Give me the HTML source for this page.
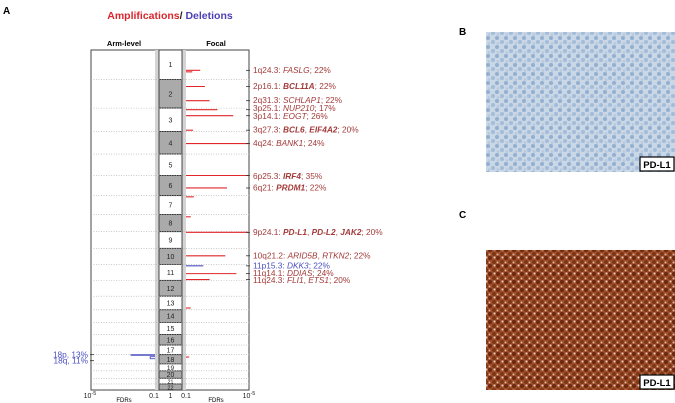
<!DOCTYPE html>
<html><head><meta charset="utf-8">
<style>
html,body{margin:0;padding:0;background:#fff;width:675px;height:403px;overflow:hidden;font-family:"Liberation Sans",Arial,sans-serif}
svg{position:absolute;left:0;top:0}
.lab{font-size:8.3px;fill:#a33a3a}
</style></head><body>
<svg width="675" height="403" viewBox="0 0 675 403">
<defs>
<pattern id="blueTex" width="9" height="9" patternUnits="userSpaceOnUse">
<rect width="9" height="9" fill="#c9d7e6"/>
<circle cx="2" cy="2" r="2" fill="#93b0d0"/><circle cx="7" cy="6" r="2" fill="#a3bcd8"/><circle cx="3" cy="7.5" r="1.3" fill="#b6c9df"/>
</pattern>
<pattern id="brownTex" width="8" height="8" patternUnits="userSpaceOnUse">
<rect width="8" height="8" fill="#a0502a"/>
<circle cx="2" cy="2" r="2.2" fill="#6e2a10"/><circle cx="6" cy="6" r="2" fill="#7d3615"/><circle cx="6.5" cy="1.5" r="1" fill="#e8d5d0"/><circle cx="1.5" cy="6.5" r="0.9" fill="#d9c2c0"/>
</pattern>
</defs>
<text x="3" y="14" font-size="10" font-weight="bold">A</text>
<text x="170" y="19" font-size="10.5" font-weight="bold" text-anchor="middle"><tspan fill="#d8262c">Amplifications</tspan><tspan fill="#222">/ </tspan><tspan fill="#4b3fb5">Deletions</tspan></text>
<text x="124" y="46" font-size="7.5" font-weight="bold" text-anchor="middle">Arm-level</text>
<text x="216" y="46" font-size="7.5" font-weight="bold" text-anchor="middle">Focal</text>
<g id="chart"></g>
<text x="459" y="35" font-size="10" font-weight="bold">B</text>
<rect x="486" y="32" width="189" height="140" fill="url(#blueTex)"/>
<rect x="640" y="157" width="34" height="14" fill="#fff" stroke="#000" stroke-width="1.2"/>
<text x="657" y="168" font-size="9.5" font-weight="bold" text-anchor="middle">PD-L1</text>
<text x="459" y="218" font-size="10" font-weight="bold">C</text>
<rect x="486" y="250" width="189" height="140" fill="url(#brownTex)"/>
<rect x="640" y="375" width="34" height="14" fill="#fff" stroke="#000" stroke-width="1.2"/>
<text x="657" y="386" font-size="9.5" font-weight="bold" text-anchor="middle">PD-L1</text>
</svg>
<script>
const chromNames=["1","2","3","4","5","6","7","8","9","10","11","12","13","14","15","16","17","18","19","20","21","22"];
const chromLengths=[249,243,198,191,181,171,159,146,141,136,135,134,115,107,102,90,81,78,59,63,48,51];
const peakChrom=[1,2,2,3,3,3,4,6,6,9,10,11,11,11,13,18,1,7,8];
const peakPosMb=[172,60,180,13,64,187,102,0.4,106,5.5,63,12,78,128,100,20,185,10,20];
const peakNegLogQ=[1.9,2.2,2.5,3.0,4.0,1.45,5,5,3.6,5,3.5,2.1,4.2,2.5,1.3,1.2,1.4,1.5,1.3];
const peakType=["amp","amp","amp","amp","amp","amp","amp","amp","amp","amp","amp","del","amp","amp","amp","amp","amp","amp","amp"];
const peakLabelRegion=["1q24.3","2p16.1","2q31.3","3p25.1","3p14.1","3q27.3","4q24","6p25.3","6q21","9p24.1","10q21.2","11p15.3","11q14.1","11q24.3","","","","",""];
const peakLabelGenes=[[["FASLG",0]],[["BCL11A",1]],[["SCHLAP1",0]],[["NUP210",0]],[["EOGT",0]],[["BCL6",1],["EIF4A2",1]],[["BANK1",0]],[["IRF4",1]],[["PRDM1",1]],[["PD-L1",1],["PD-L2",1],["JAK2",1]],[["ARID5B",0],["RTKN2",0]],[["DKK3",0]],[["DDIAS",0]],[["FLI1",0],["ETS1",0]],[],[],[],[],[]];
const peakLabelPct=["22%","22%","22%","17%","26%","20%","24%","35%","22%","20%","22%","22%","24%","20%","","","","",""];
const labelYOffset=[0,0,0,-1,1,0,0,1,0,0,0,0,0,1,0,0,0,0,0];
const armLabels=["18p, 13%","18q, 11%"];
const armChrom=[18,18];
const armStartMb=[0,17];
const armEndMb=[17,78];
const armNegLogQ=[2.5,1.3];
const ticksLeft=["10^-5","0.1","1"];

const ns="http://www.w3.org/2000/svg";
const g=document.getElementById("chart");
function mk(t,a,p){const e=document.createElementNS(ns,t);for(const k in a)e.setAttribute(k,a[k]);(p||g).appendChild(e);return e;}
const TOP=50,BOT=390,total=chromLengths.reduce((a,b)=>a+b,0);
const cum=[0];chromLengths.forEach((l,i)=>cum.push(cum[i]+l));
function yScale(c,mb){return TOP+(cum[c-1]+mb)/total*(BOT-TOP);}
function xFocal(v){return 186+(v-1)*(249-186)/4;}
function xArm(v){return 155-(v-1)*(155-91)/4;}
// frame
const frame=mk("rect",{x:91,y:TOP,width:158,height:BOT-TOP,fill:"#fff",stroke:"#444","stroke-width":1});


mk("rect",{x:155,y:TOP,width:4,height:BOT-TOP,fill:"#d4d4d4"});
mk("rect",{x:182,y:TOP,width:4,height:BOT-TOP,fill:"#d4d4d4"});
chromNames.forEach((n,i)=>{
  const y0=yScale(i+1,0),y1=yScale(i+1,chromLengths[i]);
  const r=mk("rect",{x:159,y:y0,width:23,height:y1-y0,fill:i%2?"#aaaaaa":"#fff",stroke:"#222","stroke-width":0.8});
  
  
  if(i>0){const l=mk("line",{x1:91,x2:249,y1:y0,y2:y0,stroke:"#aaa","stroke-width":0.6,"stroke-dasharray":"1,1.5"});}
  const t=mk("text",{x:170.5,y:(y0+y1)/2+2.5,"font-size":Math.min(7,(y1-y0)-0.5),"text-anchor":"middle",fill:"#222"});
  t.textContent=n;
});
// focal peaks
peakChrom.forEach((c,i)=>{
  const y=yScale(c,peakPosMb[i]);
  const col=peakType[i]==="amp"?"#e0262a":"#4b4fc0";
  const ln=mk("line",{x1:186,x2:xFocal(peakNegLogQ[i]),y1:y,y2:y,stroke:col,"stroke-width":1.1});
  
  
  if(peakLabelRegion[i]){
    const ly=y+2.5+labelYOffset[i];
    mk("line",{x1:246,x2:250,y1:y,y2:y,stroke:"#333","stroke-width":0.8});
    const t=mk("text",{x:253,y:ly,class:"lab"});
    
    
    if(peakType[i]==="del")t.setAttribute("style","fill:#4b4fc0");
    const s0=mk("tspan",{},t);s0.textContent=peakLabelRegion[i]+": ";
    peakLabelGenes[i].forEach((gn,j)=>{
      const s=mk("tspan",{"font-style":"italic","font-weight":gn[1]?"bold":"normal"},t);s.textContent=gn[0];
      if(j<peakLabelGenes[i].length-1){const c2=mk("tspan",{},t);c2.textContent=", ";}
    });
    const se=mk("tspan",{},t);se.textContent="; "+peakLabelPct[i];
  }
});
// arm level
armChrom.forEach((c,i)=>{
  const y0=yScale(c,armStartMb[i]),y1=yScale(c,armEndMb[i]);
  const x=xArm(armNegLogQ[i]);
  const p=mk("path",{d:`M155 ${y0} L${x} ${y0} L${x} ${y0+Math.min(2,(y1-y0)/3)} L155 ${y0+Math.min(2,(y1-y0)/3)}`,fill:"none",stroke:"#4b4fc0","stroke-width":0.9});
  
  
  const ym=i===0?y0:y0+4;
  mk("line",{x1:90,x2:94,y1:ym,y2:ym,stroke:"#333","stroke-width":0.8});
  const t=mk("text",{x:88,y:ym+3,"font-size":8.3,"text-anchor":"end",fill:"#4b4fc0"});
  
  
  t.textContent=armLabels[i];
});
// axis
function tick(x,txt,sup){const t=mk("text",{x:x,y:398,"font-size":7,"text-anchor":"middle",fill:"#222"});t.textContent=txt;if(sup){const s=mk("tspan",{dy:-3,"font-size":5.5},t);s.textContent=sup;}}
tick(xArm(5)-1,"10","-5");tick(xArm(1)-1,"0.1");tick(170.5,"1");tick(xFocal(1),"0.1");tick(xFocal(5),"10","-5");
const f1=mk("text",{x:124,y:402,"font-size":6,"text-anchor":"middle"});f1.textContent="FDRs";
const f2=mk("text",{x:216,y:402,"font-size":6,"text-anchor":"middle"});f2.textContent="FDRs";
</script>
</body></html>
